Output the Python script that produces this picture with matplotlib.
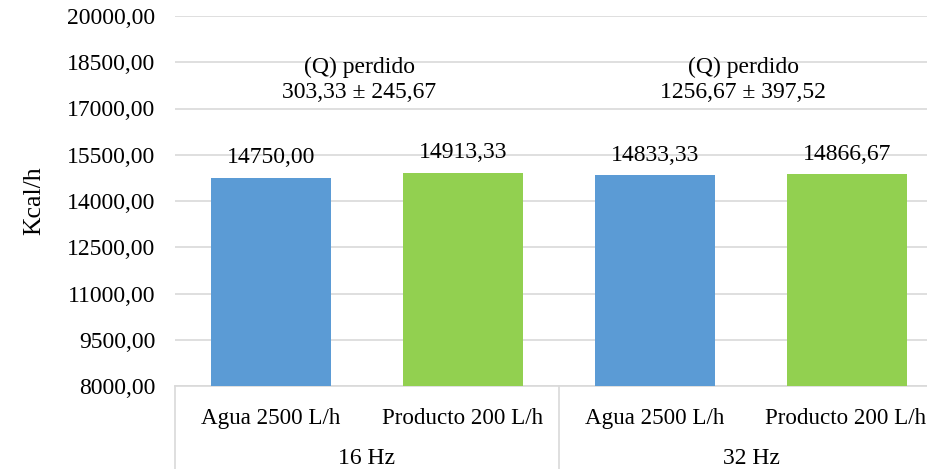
import matplotlib
matplotlib.use('Agg')
import matplotlib.pyplot as plt
import matplotlib.transforms as mtransforms

# datos del ensayo
frecuencias = ["16 Hz", "32 Hz"]
fluidos = ["Agua 2500 L/h", "Producto 200 L/h"]
calor = [14750.00, 14913.33, 14833.33, 14866.67]
perdido = ["303,33 ± 245,67", "1256,67 ± 397,52"]
yticks = [8000, 9500, 11000, 12500, 14000, 15500, 17000, 18500, 20000]

colores = ["#5B9BD5", "#92D050"]
gris = "#D9D9D9"

plt.rcParams['font.family'] = ['Liberation Serif', 'DejaVu Serif']
fs = 17

def coma(v):
    return f"{v:.2f}".replace(".", ",")

fig = plt.figure(figsize=(9.27, 4.69), dpi=100)
ax = fig.add_axes([175 / 927, 83 / 469, 768 / 927, 370 / 469])

x = list(range(len(calor)))
for i, v in enumerate(calor):
    ax.bar(i, v - 8000, bottom=8000, width=0.625, color=colores[i % 2], zorder=3)
    ax.annotate(coma(v), (i, v), xytext=(0, 7), textcoords='offset points',
                ha='center', va='bottom', fontsize=fs)

ax.set_xlim(-0.5, 3.5)
ax.set_ylim(8000, 20000)
ax.set_yticks(yticks)
ax.set_yticklabels([coma(t) for t in yticks], fontsize=fs)
ax.tick_params(axis='y', length=0, pad=14)
ax.set_xticks([])
ax.grid(axis='y', color=gris, linewidth=1.2, zorder=0)
for s in ['top', 'right', 'left']:
    ax.spines[s].set_visible(False)
ax.spines['bottom'].set_color(gris)
ax.spines['bottom'].set_linewidth(1.2)
ax.set_ylabel("Kcal/h", fontsize=fs + 1.5, labelpad=16)

# texto de calor perdido por grupo
for g, txt in enumerate(perdido):
    ax.text(2 * g + 0.46, 17930, "(Q) perdido\n" + txt, ha='center', va='center',
            fontsize=fs, linespacing=1.3)

# eje x agrupado
trans = mtransforms.blended_transform_factory(ax.transData, ax.transAxes)
for i in x:
    ax.text(i - 0.01 * (i == 3), -0.087, fluidos[i % 2], transform=trans,
            ha='center', va='center', fontsize=16.6, clip_on=False)
for g, f in enumerate(frecuencias):
    ax.text(2 * g + 0.5, -0.197, f, transform=trans, ha='center', va='center',
            fontsize=fs, clip_on=False)
for xs in [-0.5, 1.5, 3.5]:
    ax.plot([xs, xs], [0, -0.3], transform=trans, color=gris, linewidth=1.2,
            clip_on=False)

fig.savefig("out.png", dpi=100)
